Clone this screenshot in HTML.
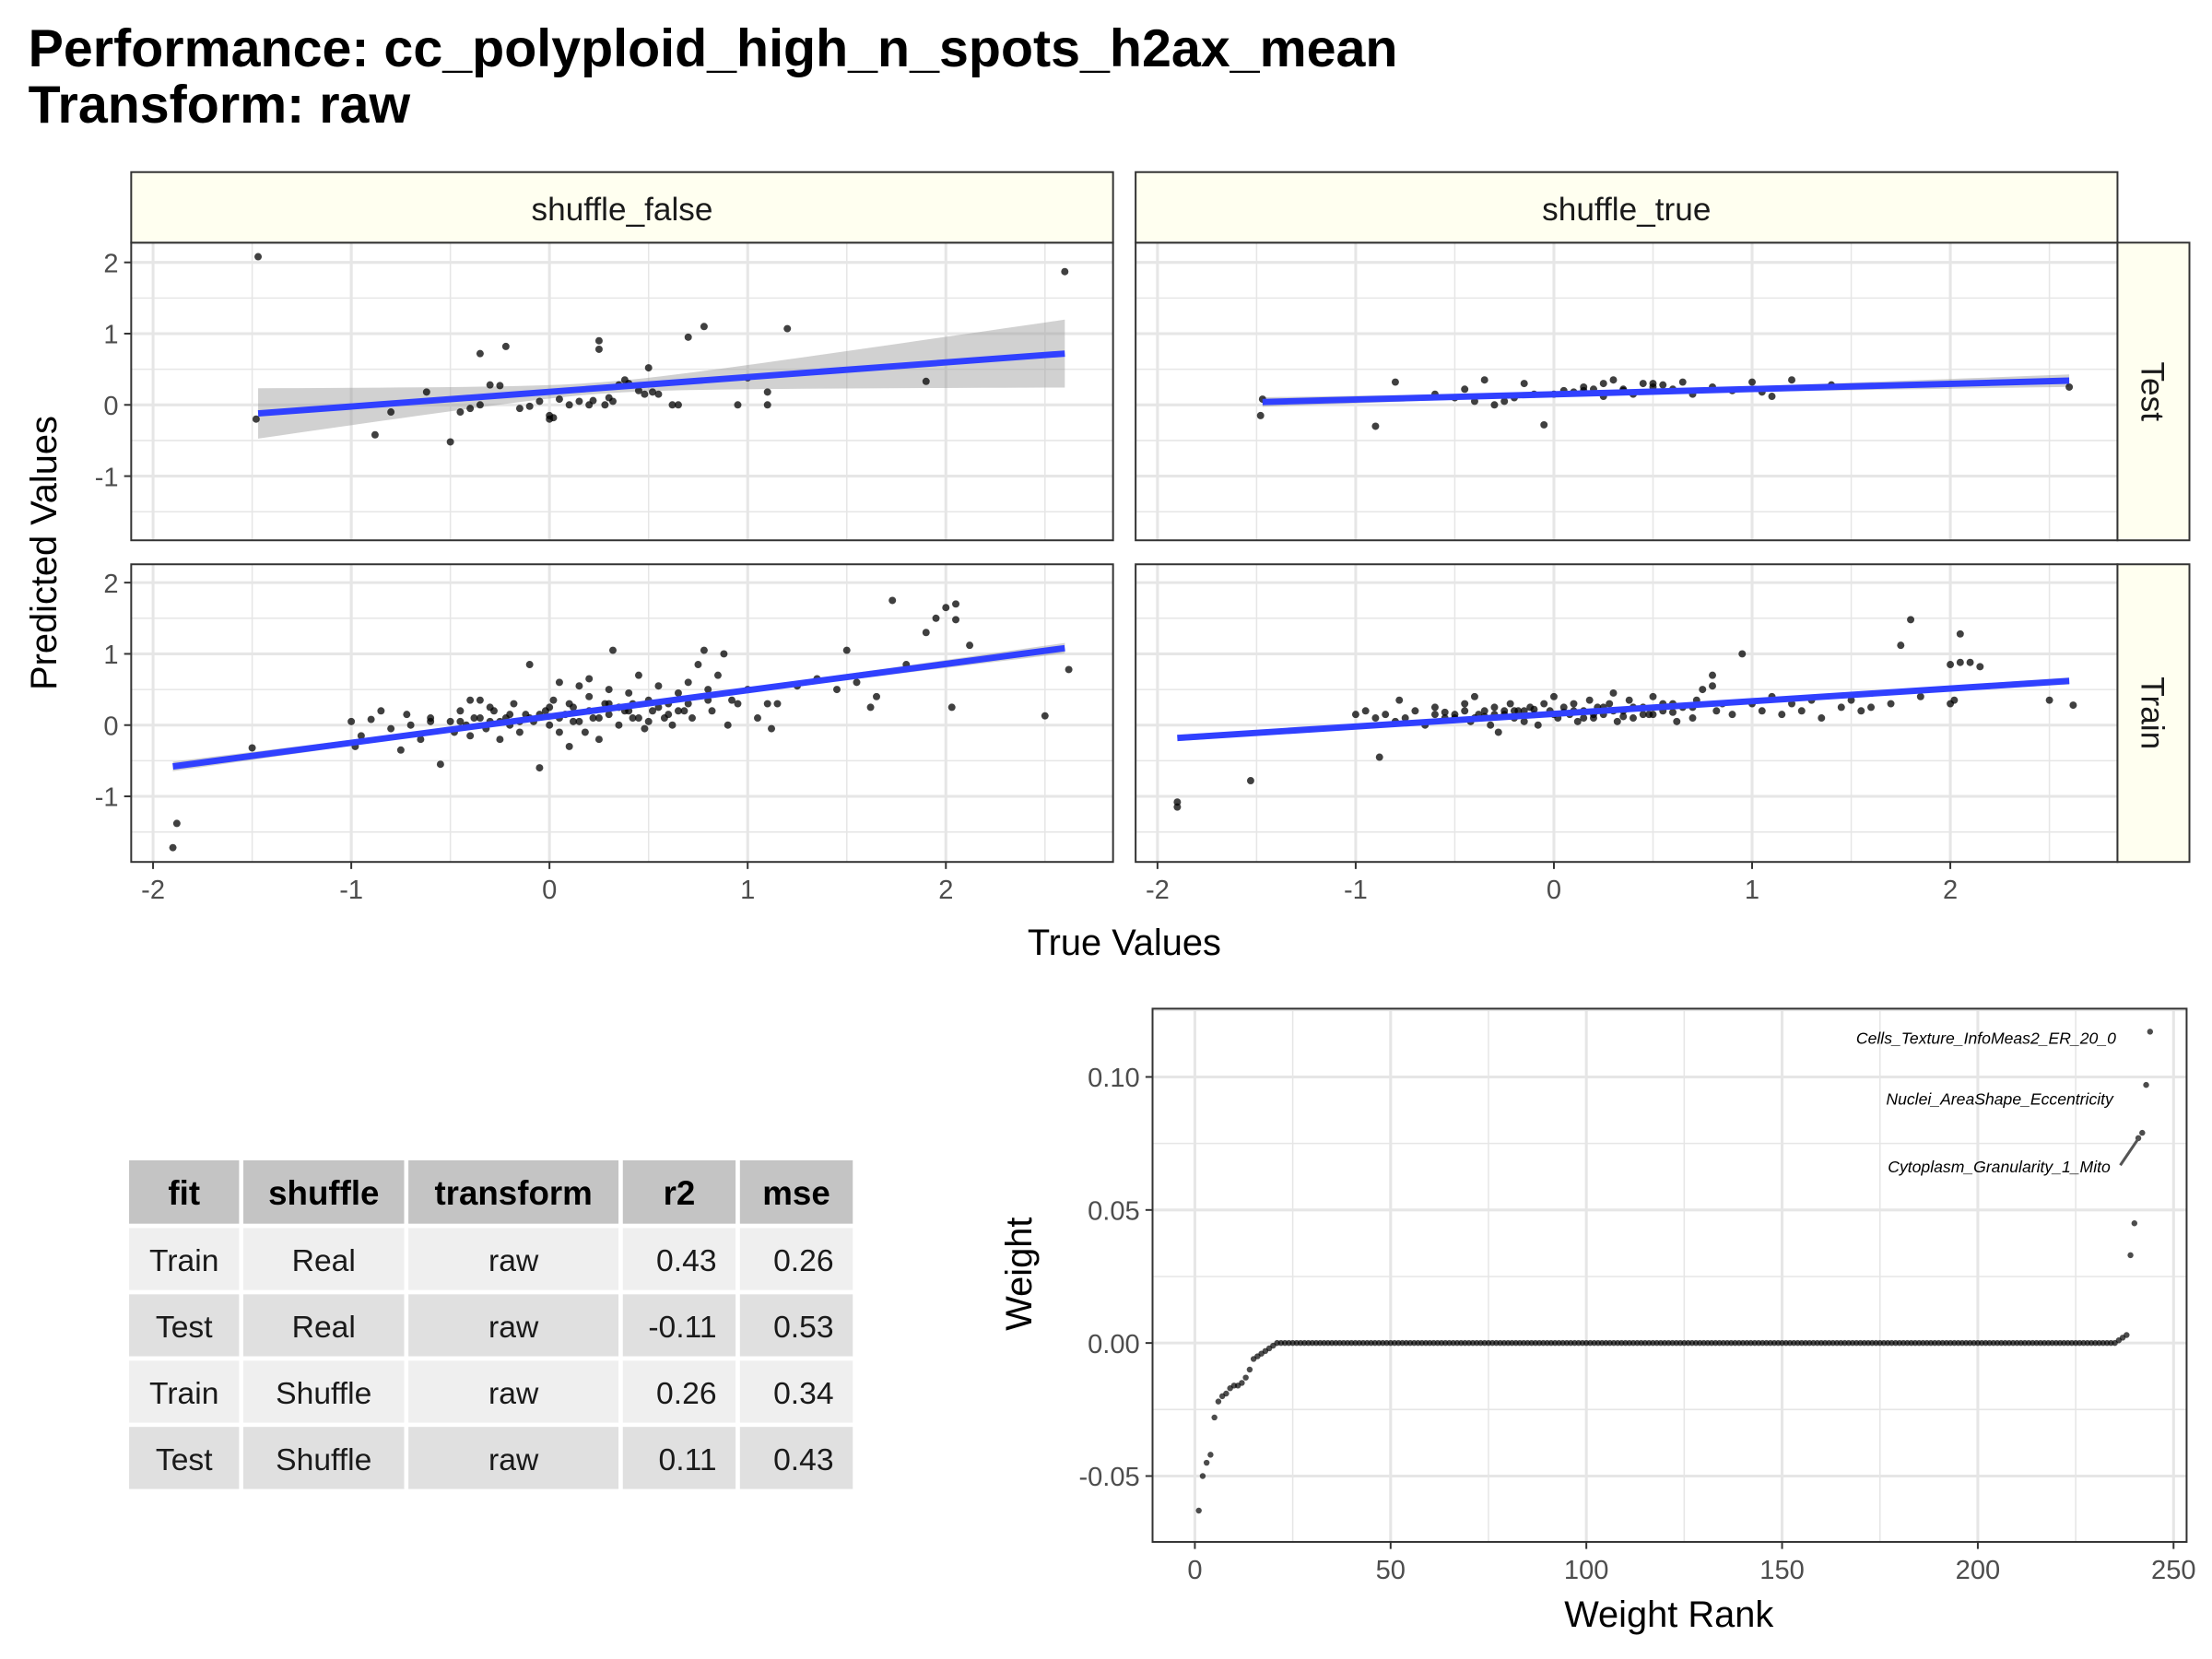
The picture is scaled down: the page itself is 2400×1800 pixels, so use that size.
<!DOCTYPE html>
<html><head><meta charset="utf-8"><style>
html,body{margin:0;padding:0;background:#fff}
svg{display:block}
text{font-family:"Liberation Sans",Arial,sans-serif}
</style></head><body>
<svg id="chart" width="2400" height="1800" viewBox="0 0 1568 1176" xmlns="http://www.w3.org/2000/svg">
<text x="20" y="47" font-size="37.5" font-weight="bold" fill="#000">Performance: cc_polyploid_high_n_spots_h2ax_mean</text>
<text x="20" y="87" font-size="37.5" font-weight="bold" fill="#000">Transform: raw</text>
<g id="facets"></g>
<g id="weights"></g>
<g id="table"></g>
</svg>
<script>
const NS="http://www.w3.org/2000/svg";
function mk(tag,attrs,parent,txt){const e=document.createElementNS(NS,tag);for(const k in attrs)e.setAttribute(k,attrs[k]);if(txt!==undefined)e.textContent=txt;parent.appendChild(e);return e;}

// ---------- data ----------
const xTicks=[-2,-1,0,1,2];
const yTicks=[-1,0,1,2];
const testReal=[[-1.47,2.08],[-1.48,-0.2],[2.6,1.87],[-0.88,-0.42],[-0.8,-0.1],[-0.62,0.18],[-0.5,-0.52],[-0.45,-0.1],[-0.4,-0.05],[-0.35,0.0],[-0.35,0.72],[-0.3,0.28],[-0.25,0.27],[-0.22,0.82],[-0.15,-0.05],[-0.1,-0.02],[-0.05,0.05],[0.0,-0.2],[0.0,-0.15],[0.02,-0.18],[0.05,0.08],[0.1,0.0],[0.15,0.05],[0.2,0.0],[0.22,0.06],[0.25,0.9],[0.25,0.78],[0.28,0.0],[0.3,0.1],[0.32,0.05],[0.38,0.35],[0.45,0.2],[0.48,0.15],[0.5,0.52],[0.52,0.18],[0.55,0.15],[0.62,0.0],[0.7,0.95],[0.78,1.1],[0.65,0.0],[0.95,0.0],[1.0,0.38],[1.2,1.07],[1.1,0.18],[1.1,0.0],[1.9,0.33],[0.35,0.28],[0.4,0.3]];
const testShuf=[[-1.47,0.08],[-1.48,-0.15],[-0.9,-0.3],[-0.8,0.32],[-0.6,0.15],[-0.5,0.1],[-0.45,0.22],[-0.4,0.05],[-0.35,0.35],[-0.3,0.0],[-0.25,0.05],[-0.2,0.1],[-0.15,0.3],[-0.1,0.15],[-0.05,-0.28],[0.0,0.15],[0.05,0.2],[0.1,0.18],[0.15,0.25],[0.2,0.22],[0.25,0.3],[0.3,0.35],[0.35,0.2],[0.4,0.15],[0.45,0.3],[0.5,0.25],[0.55,0.28],[0.6,0.22],[0.65,0.32],[0.7,0.15],[0.8,0.25],[0.9,0.2],[1.0,0.32],[1.05,0.18],[1.1,0.12],[1.2,0.35],[1.4,0.28],[2.6,0.25],[0.35,0.22],[0.5,0.3],[0.15,0.2],[0.25,0.12]];
const trainReal=[[-1.88,-1.38],[-1.9,-1.72],[-1.5,-0.32],[-1.0,0.05],[-0.98,-0.3],[-0.95,-0.15],[-0.9,0.08],[-0.85,0.2],[-0.8,-0.05],[-0.75,-0.35],[-0.72,0.15],[-0.7,0.0],[-0.65,-0.2],[-0.6,0.1],[-0.55,-0.55],[-0.5,0.05],[-0.48,-0.1],[-0.45,0.2],[-0.42,0.0],[-0.4,-0.15],[-0.38,0.1],[-0.35,0.35],[-0.32,-0.05],[-0.3,0.05],[-0.28,0.2],[-0.25,-0.2],[-0.22,0.1],[-0.2,0.0],[-0.18,0.3],[-0.15,-0.1],[-0.12,0.15],[-0.1,0.85],[-0.08,0.05],[-0.05,-0.6],[-0.02,0.2],[0.0,0.0],[0.02,0.35],[0.05,0.6],[0.05,-0.1],[0.08,0.15],[0.1,-0.3],[0.12,0.25],[0.15,0.05],[0.18,-0.1],[0.2,0.4],[0.2,0.65],[0.22,0.1],[0.25,-0.2],[0.28,0.3],[0.3,0.15],[0.32,1.05],[0.35,0.0],[0.38,0.2],[0.4,0.45],[0.42,0.1],[0.45,0.7],[0.48,-0.05],[0.5,0.35],[0.52,0.2],[0.55,0.55],[0.58,0.1],[0.6,0.3],[0.62,0.0],[0.65,0.45],[0.68,0.2],[0.7,0.6],[0.72,0.1],[0.75,0.85],[0.78,1.05],[0.8,0.5],[0.82,0.2],[0.85,0.7],[0.88,1.0],[0.9,0.0],[0.92,0.35],[0.95,0.3],[1.0,0.5],[1.05,0.1],[1.1,0.3],[1.12,-0.05],[1.15,0.3],[1.25,0.55],[1.35,0.65],[1.45,0.5],[1.5,1.05],[1.55,0.6],[1.62,0.25],[1.65,0.4],[1.73,1.75],[1.8,0.85],[1.9,1.3],[1.95,1.5],[2.0,1.65],[2.03,0.25],[2.05,1.7],[2.05,1.48],[2.12,1.12],[2.5,0.13],[2.62,0.78],[-0.3,0.25],[0.0,0.25],[0.1,0.3],[-0.2,0.15],[0.3,0.5],[0.55,0.25],[0.15,0.55],[-0.4,0.35],[0.45,0.1],[-0.6,0.05],[-0.35,0.1],[-0.15,0.05],[0.05,0.1],[0.25,0.1],[0.4,0.2],[0.6,0.15],[-0.25,0.05],[0.35,0.25],[0.7,0.3],[-0.1,0.1],[0.12,0.05],[0.3,0.3],[0.5,0.05],[0.65,0.2],[-0.45,0.05],[0.2,0.2],[0.8,0.35],[-0.05,0.15],[0.42,0.3]];
const trainShuf=[[-1.9,-1.08],[-1.9,-1.15],[-1.53,-0.78],[-1.0,0.15],[-0.95,0.2],[-0.9,0.1],[-0.88,-0.45],[-0.85,0.15],[-0.8,0.05],[-0.78,0.35],[-0.75,0.1],[-0.7,0.2],[-0.65,0.0],[-0.6,0.25],[-0.55,0.1],[-0.5,0.15],[-0.45,0.3],[-0.42,0.05],[-0.4,0.4],[-0.38,0.15],[-0.35,0.2],[-0.32,0.0],[-0.3,0.25],[-0.28,-0.1],[-0.25,0.15],[-0.22,0.3],[-0.2,0.1],[-0.18,0.2],[-0.15,0.05],[-0.12,0.25],[-0.1,0.15],[-0.08,0.0],[-0.05,0.3],[-0.02,0.2],[0.0,0.4],[0.02,0.1],[0.05,0.25],[0.08,0.15],[0.1,0.3],[0.12,0.05],[0.15,0.2],[0.18,0.35],[0.2,0.1],[0.22,0.25],[0.25,0.15],[0.28,0.3],[0.3,0.45],[0.32,0.05],[0.35,0.2],[0.38,0.35],[0.4,0.1],[0.45,0.25],[0.48,0.15],[0.5,0.4],[0.55,0.2],[0.6,0.3],[0.62,0.05],[0.65,0.25],[0.7,0.1],[0.72,0.35],[0.75,0.5],[0.8,0.7],[0.82,0.2],[0.85,0.3],[0.8,0.55],[0.9,0.15],[0.95,1.0],[1.0,0.3],[1.05,0.2],[1.1,0.4],[1.15,0.15],[1.2,0.3],[1.25,0.2],[1.3,0.35],[1.35,0.1],[1.45,0.25],[1.5,0.35],[1.55,0.2],[1.6,0.25],[1.7,0.3],[1.8,1.48],[1.75,1.12],[2.0,0.85],[2.02,0.35],[2.05,0.88],[2.05,1.28],[2.1,0.88],[2.15,0.82],[2.5,0.35],[2.62,0.28],[1.85,0.4],[2.0,0.3],[-0.6,0.15],[-0.3,0.15],[0.0,0.15],[0.3,0.2],[0.5,0.15],[0.7,0.25],[-0.45,0.2],[0.15,0.1],[0.4,0.25],[-0.15,0.2],[-0.5,0.1],[-0.2,0.2],[0.1,0.2],[0.25,0.25],[0.55,0.3],[-0.35,0.12],[0.05,0.18],[-0.4,0.1],[-0.25,0.2],[0.2,0.15],[0.35,0.12],[0.6,0.18],[-0.1,0.22],[0.45,0.15],[-0.55,0.18]];
// fit lines: [x0,y0,x1,y1]
const fitTestReal=[-1.47,-0.12,2.6,0.72];
const fitTestShuf=[-1.47,0.04,2.6,0.34];
const fitTrainReal=[-1.9,-0.58,2.6,1.08];
const fitTrainShuf=[-1.9,-0.18,2.6,0.62];
// CI band params [s0, slopeFactor, xcenter]
const ciTestReal=[0.08,0.2,0.25];
const ciTestShuf=[0.03,0.035,0.25];
const ciTrainReal=[0.02,0.03,0.25];
const ciTrainShuf=[0.015,0.02,0.25];

const facetG=document.getElementById('facets');
const panels=[
 {name:'test-real',x0:93,y0:172,pts:testReal,fit:fitTestReal,ci:ciTestReal,row:0,col:0},
 {name:'test-shuffle',x0:805,y0:172,pts:testShuf,fit:fitTestShuf,ci:ciTestShuf,row:0,col:1},
 {name:'train-real',x0:93,y0:400,pts:trainReal,fit:fitTrainReal,ci:ciTrainReal,row:1,col:0},
 {name:'train-shuffle',x0:805,y0:400,pts:trainShuf,fit:fitTrainShuf,ci:ciTrainShuf,row:1,col:1}];
const PW=696,PH=211,XU=140.5,YU=50.5;
panels.forEach(p=>{
 const sx=v=>p.x0+296.5+v*XU;
 const sy=v=>p.y0+(p.row===0?115:114)-v*YU;
 const g=mk('g',{},facetG);
 
 
 mk('rect',{x:p.x0,y:p.y0,width:PW,height:PH,fill:'#fff'},g);
 for(let v=-2.5;v<=2.51;v+=0.5){const X=sx(v);if(X>p.x0&&X<p.x0+PW)mk('line',{x1:X,x2:X,y1:p.y0,y2:p.y0+PH,stroke:'#e6e6e6','stroke-width':Number.isInteger(v)?2:1},g);}
 for(let v=-2;v<=2.51;v+=0.5){const Y=sy(v);if(Y>p.y0&&Y<p.y0+PH)mk('line',{x1:p.x0,x2:p.x0+PW,y1:Y,y2:Y,stroke:'#e6e6e6','stroke-width':Number.isInteger(v)?2:1},g);}
 const f=p.fit,sl=(f[3]-f[1])/(f[2]-f[0]);
 let up=[],lo=[];
 for(let i=0;i<=40;i++){const x=f[0]+(f[2]-f[0])*i/40;const y=f[1]+sl*(x-f[0]);const h=Math.sqrt(p.ci[0]*p.ci[0]+p.ci[1]*p.ci[1]*(x-p.ci[2])*(x-p.ci[2]));up.push(sx(x)+','+sy(y+h));lo.unshift(sx(x)+','+sy(y-h));}
 const band=mk('polygon',{points:up.concat(lo).join(' '),fill:'#999',opacity:0.45},g);
 
 
 p.pts.forEach(d=>{const c=mk('circle',{cx:sx(d[0]),cy:sy(d[1]),r:2.6,fill:'#000','fill-opacity':0.75},g);
  
  });
 const ln=mk('line',{x1:sx(f[0]),y1:sy(f[1]),x2:sx(f[2]),y2:sy(f[3]),stroke:'#3040ff','stroke-width':4.5},g);
 
 
 mk('rect',{x:p.x0,y:p.y0,width:PW,height:PH,fill:'none',stroke:'#333','stroke-width':1.3},g);
 if(p.col===0){yTicks.forEach(v=>{const Y=sy(v);mk('line',{x1:p.x0-5,x2:p.x0,y1:Y,y2:Y,stroke:'#333','stroke-width':1.3},g);
  const t=mk('text',{x:p.x0-9,y:Y+7,'font-size':19,fill:'#4d4d4d','text-anchor':'end'},g,String(v));
  });}
 if(p.row===1){xTicks.forEach(v=>{const X=sx(v);mk('line',{x1:X,x2:X,y1:p.y0+PH,y2:p.y0+PH+5,stroke:'#333','stroke-width':1.3},g);
  const t=mk('text',{x:X,y:p.y0+PH+26,'font-size':19,fill:'#4d4d4d','text-anchor':'middle'},g,String(v));
  });}
});
[[93,'shuffle_false'],[805,'shuffle_true']].forEach(s=>{const g=mk('g',{},facetG);
 
 mk('rect',{x:s[0],y:122,width:PW,height:50,fill:'#fffff0',stroke:'#333','stroke-width':1.3},g);
 mk('text',{x:s[0]+PW/2,y:156,'font-size':23,fill:'#1a1a1a','text-anchor':'middle'},g,s[1]);});
[[172,'Test'],[400,'Train']].forEach(s=>{const g=mk('g',{},facetG);
 
 mk('rect',{x:1501,y:s[0],width:51,height:PH,fill:'#fffff0',stroke:'#333','stroke-width':1.3},g);
 mk('text',{x:1518,y:s[0]+PH/2,'font-size':23,fill:'#1a1a1a','text-anchor':'middle',transform:'rotate(90 1518 '+(s[0]+PH/2)+')'},g,s[1]);});
let t=mk('text',{x:40,y:392,'font-size':26,fill:'#000','text-anchor':'middle',transform:'rotate(-90 40 392)'},facetG,'Predicted Values');

t=mk('text',{x:797,y:677,'font-size':26,fill:'#000','text-anchor':'middle'},facetG,'True Values');


// ---------- weight plot ----------
const wxTicks=[0,50,100,150,200,250];
const wyTicks=[-0.05,0.00,0.05,0.10];
const wyLabels=['-0.05','0.00','0.05','0.10'];
const negWeights=[-0.063,-0.05,-0.045,-0.042,-0.028,-0.022,-0.02,-0.019,-0.017,-0.016,-0.016,-0.015,-0.013,-0.01,-0.006,-0.005,-0.004,-0.003,-0.002,-0.001];
const zeroCount=215;
const posWeights=[0.001,0.002,0.003,0.033,0.045,0.077,0.079,0.097,0.117];
const featLabels=['Cells_Texture_InfoMeas2_ER_20_0','Nuclei_AreaShape_Eccentricity','Cytoplasm_Granularity_1_Mito'];
const weights=negWeights.concat(new Array(zeroCount).fill(0)).concat(posWeights);
const WG=document.getElementById('weights');
const wx0=817,wy0=715,ww=733,wh=378;
const wsx=v=>847+v*2.775, wsy=v=>952-v*1886;
mk('rect',{x:wx0,y:wy0,width:ww,height:wh,fill:'#fff'},WG);
for(let v=-25;v<=275;v+=25){const X=wsx(v);if(X>wx0&&X<wx0+ww)mk('line',{x1:X,x2:X,y1:wy0,y2:wy0+wh,stroke:'#e6e6e6','stroke-width':v%50===0?2:1},WG);}
for(let v=-0.075;v<=0.126;v+=0.025){const Y=wsy(v);if(Y>wy0&&Y<wy0+wh)mk('line',{x1:wx0,x2:wx0+ww,y1:Y,y2:Y,stroke:'#e6e6e6','stroke-width':Math.abs(Math.round(v*1000))%50===0?2:1},WG);}
weights.forEach((w,i)=>{const c=mk('circle',{cx:wsx(i+1),cy:wsy(w),r:2.1,fill:'#000','fill-opacity':0.7},WG);
 
 });
const n=weights.length;
[[0,740],[1,783],[2,831]].forEach(l=>{const tt=mk('text',{x:1500-l[0]*2,y:l[1],'font-size':11.5,'font-style':'italic',fill:'#000','text-anchor':'end'},WG,featLabels[l[0]]);
 });
mk('line',{x1:1503,y1:826,x2:wsx(n-2)-2,y2:wsy(weights[n-3])+3,stroke:'#555','stroke-width':2},WG);
mk('rect',{x:wx0,y:wy0,width:ww,height:wh,fill:'none',stroke:'#333','stroke-width':1.3},WG);
wxTicks.forEach(v=>{const X=wsx(v);mk('line',{x1:X,x2:X,y1:wy0+wh,y2:wy0+wh+5,stroke:'#333','stroke-width':1.3},WG);
 const tt=mk('text',{x:X,y:wy0+wh+26,'font-size':19,fill:'#4d4d4d','text-anchor':'middle'},WG,String(v));
 });
wyTicks.forEach((v,i)=>{const Y=wsy(v);mk('line',{x1:wx0-5,x2:wx0,y1:Y,y2:Y,stroke:'#333','stroke-width':1.3},WG);
 const tt=mk('text',{x:wx0-9,y:Y+7,'font-size':19,fill:'#4d4d4d','text-anchor':'end'},WG,wyLabels[i]);
 });
t=mk('text',{x:1183,y:1153,'font-size':26,fill:'#000','text-anchor':'middle'},WG,'Weight Rank');

t=mk('text',{x:731,y:903,'font-size':26,fill:'#000','text-anchor':'middle',transform:'rotate(-90 731 903)'},WG,'Weight');


// ---------- table ----------
const colHeads=['fit','shuffle','transform','r2','mse'];
const rowFit=['Train','Test','Train','Test'];
const rowShuffle=['Real','Real','Shuffle','Shuffle'];
const rowTransform=['raw','raw','raw','raw'];
const rowR2=['0.43','-0.11','0.26','0.11'];
const rowMse=['0.26','0.53','0.34','0.43'];
const TG=document.getElementById('table');
const colX=[90,171,288,440,523,606];
const rowY=[821,869,916,963,1010,1057];
const cols=[rowFit,rowShuffle,rowTransform,rowR2,rowMse];
colHeads.forEach((h,c)=>{mk('rect',{x:colX[c],y:rowY[0],width:colX[c+1]-colX[c],height:rowY[1]-rowY[0],fill:'#c4c4c4',stroke:'#fff','stroke-width':3},TG);
 const tt=mk('text',{x:(colX[c]+colX[c+1])/2,y:rowY[0]+33,'font-size':24,'font-weight':'bold',fill:'#000','text-anchor':'middle'},TG,h);
 });
for(let r=0;r<4;r++){for(let c=0;c<5;c++){
 mk('rect',{x:colX[c],y:rowY[r+1],width:colX[c+1]-colX[c],height:rowY[r+2]-rowY[r+1],fill:r%2===0?'#efefef':'#e0e0e0',stroke:'#fff','stroke-width':3},TG);
 const num=c>=3;
 const tt=mk('text',{x:num?colX[c+1]-15:(colX[c]+colX[c+1])/2,y:rowY[r+1]+32,'font-size':22,fill:'#1a1a1a','text-anchor':num?'end':'middle'},TG,cols[c][r]);
 }}
</script>
</body></html>
